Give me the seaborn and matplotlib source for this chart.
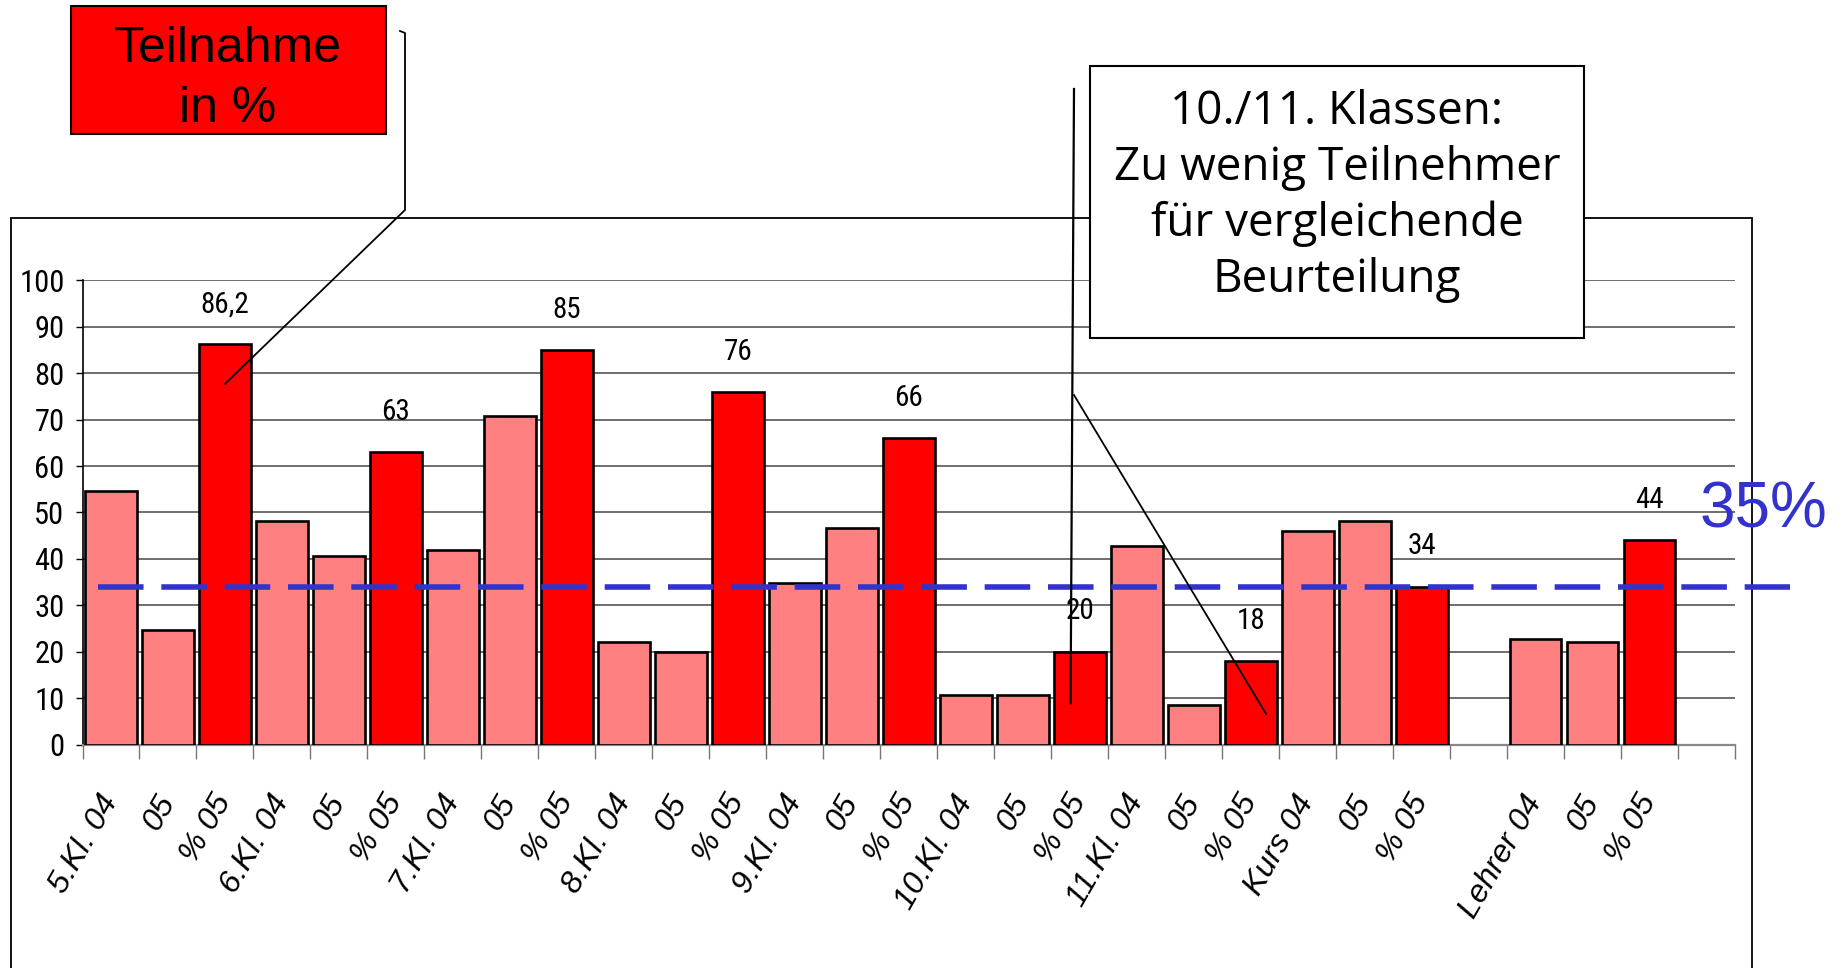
import os
import numpy as np
import pandas as pd
import matplotlib
matplotlib.use("Agg")
import matplotlib.pyplot as plt
import matplotlib.font_manager as fm
from matplotlib.lines import Line2D
from matplotlib.patches import Rectangle
import seaborn as sns

# ---------------- data ----------------
tick_labels = ["5.Kl. 04", "05", "% 05", "6.Kl. 04", "05", "% 05",
               "7.Kl. 04", "05", "% 05", "8.Kl. 04", "05", "% 05",
               "9.Kl. 04", "05", "% 05", "10.Kl. 04", "05", "% 05",
               "11.Kl. 04", "05", "% 05", "Kurs 04", "05", "% 05",
               "", "Lehrer 04", "05", "% 05", ""]
values = [54.7, 24.7, 86.2, 48.1, 40.6, 63.0, 42.0, 70.7, 85.0,
          22.0, 20.0, 76.0, 34.8, 46.7, 66.0, 10.6, 10.6, 20.0,
          42.7, 8.6, 18.0, 45.9, 48.1, 34.0, None, 22.7, 22.0, 44.0, None]
kinds = ["Anzahl", "Anzahl", "Prozent"] * 8 + [None] + ["Anzahl", "Anzahl", "Prozent"] + [None]
value_labels = {2: "86,2", 5: "63", 8: "85", 11: "76", 14: "66",
                17: "20", 20: "18", 23: "34", 27: "44"}
threshold = 34
threshold_label = "35%"

# ---------------- fonts ----------------
names = {f.name for f in fm.fontManager.ttflist}
SANS = "Liberation Sans"
BOXFONT = "Open Sans" if "Open Sans" in names else "DejaVu Sans"
narrow_kw = None
for cand in ["Liberation Sans Narrow", "Arial Narrow", "DejaVu Sans Condensed",
             "Roboto Condensed", "Open Sans Condensed"]:
    if cand in names:
        narrow_kw = {"family": cand}
        break
if narrow_kw is None:
    try:
        path = fm.findfont(fm.FontProperties(family="DejaVu Sans", stretch="condensed"),
                           fallback_to_default=False)
        if "Condensed" in path:
            narrow_kw = {"family": "DejaVu Sans", "stretch": "condensed"}
    except Exception:
        pass
if narrow_kw is None:
    narrow_kw = {"family": SANS}
    NSIZE = 19
else:
    NSIZE = 22

# italic font file for the category labels
italic_path = None
for cand in ["Liberation Sans", "Roboto", "Noto Sans", "Open Sans", "Lato", "Inter", "DejaVu Sans"]:
    for f in fm.fontManager.ttflist:
        if (f.name == cand and f.style in ("italic", "oblique")
                and f.weight in (400, "normal", "regular", "book")
                and f.stretch == "normal"):
            italic_path = f.fname
            break
    if italic_path:
        break
if italic_path is None:
    italic_path = os.path.join(matplotlib.get_data_path(), "fonts", "ttf", "DejaVuSans-Oblique.ttf")

plt.rcParams["font.family"] = [SANS, "DejaVu Sans"]

W, H = 1847, 968
def fx(x):
    return x / W
def fy(y):
    return 1 - y / H

slots = [f"s{i:02d}" for i in range(len(tick_labels))]
df = pd.DataFrame({"slot": slots, "value": values, "kind": kinds}).dropna()

fig = plt.figure(figsize=(W / 100, H / 100), dpi=100)
ax = fig.add_axes([fx(82.5), fy(744.5), fx(1735) - fx(82.5), fy(280.4) - fy(744.5)])

sns.barplot(data=df, x="slot", y="value", hue="kind", order=slots,
            hue_order=["Anzahl", "Prozent"],
            palette={"Anzahl": "#FF8080", "Prozent": "#FF0000"},
            dodge=False, width=0.91, saturation=1, errorbar=None,
            edgecolor="black", linewidth=1.9, legend=False, ax=ax, zorder=3)

ax.set_xlim(-0.5, len(slots) - 0.5)
ax.set_ylim(0, 100)
ax.yaxis.grid(True, color="#555555", linewidth=1.2, zorder=0)
ax.set_axisbelow(True)
ax.set_xlabel("")
ax.set_ylabel("")
for s in ["top", "right"]:
    ax.spines[s].set_visible(False)
ax.spines["left"].set_color("black")
ax.spines["left"].set_linewidth(1.2)
ax.spines["bottom"].set_color("#888888")
ax.spines["bottom"].set_linewidth(1.6)

ax.set_xticks(range(len(slots)))
ax.set_xticklabels(tick_labels, rotation=60, ha="right", va="center",
                   rotation_mode="anchor")
ax.set_xticks(np.arange(-0.5, len(slots), 1), minor=True)
ax.tick_params(axis="x", which="major", length=0, pad=38)
ax.tick_params(axis="x", which="minor", length=10, width=1, color="#777777")
ax.set_yticks(range(0, 101, 10))
ax.set_yticklabels([str(v) for v in range(0, 101, 10)], fontsize=NSIZE, **narrow_kw)
ax.tick_params(axis="y", length=5, width=1, color="black", pad=8)
for t in ax.get_xticklabels():
    t.set_fontproperties(fm.FontProperties(fname=italic_path, size=23))

# value labels above the % bars
for i, txt in value_labels.items():
    ax.annotate(txt, (i, values[i]), xytext=(0, 29), textcoords="offset points",
                ha="center", va="center", fontsize=NSIZE - 1, zorder=5, **narrow_kw)

# dashed threshold line
ax.plot([-0.23, 29.46], [threshold, threshold], color="#3333CC", lw=4,
        dashes=(8.2, 3.2), clip_on=False, zorder=4)
ax.text(29.0, 50.5, threshold_label, color="#3333CC", fontsize=46,
        ha="center", va="center", clip_on=False)

# outer plot-area frame
fig.add_artist(Rectangle((fx(10.6), -0.05), fx(1752) - fx(10.6), fy(218) + 0.05,
                         transform=fig.transFigure, fill=False,
                         edgecolor="black", linewidth=1.3, zorder=0))

def data_to_fig(x, y):
    p = ax.transData.transform((x, y))
    return fig.transFigure.inverted().transform(p)

# "Teilnahme in %" box + callout
fig.add_artist(Rectangle((fx(71), fy(134)), fx(386) - fx(71), fy(6) - fy(134),
                         transform=fig.transFigure, facecolor="#FF0000",
                         edgecolor="black", linewidth=1.5, zorder=6))
fig.text(fx(228), fy(79), "Teilnahme\nin %", ha="center", va="center",
         fontsize=36, linespacing=1.38, zorder=7)
ex, ey = data_to_fig(2.0, 77.7)
fig.add_artist(Line2D([fx(400), fx(405), fx(405), ex],
                      [fy(31), fy(33), fy(210), ey],
                      transform=fig.transFigure, color="black", lw=1.3, zorder=6))

# "10./11. Klassen" box + callouts
fig.add_artist(Rectangle((fx(1090), fy(338)), fx(1584) - fx(1090), fy(66) - fy(338),
                         transform=fig.transFigure, facecolor="white",
                         edgecolor="black", linewidth=1.5, zorder=6))
fig.text(fx(1337), fy(196),
         "10./11. Klassen:\nZu wenig Teilnehmer\nfür vergleichende\nBeurteilung",
         ha="center", va="center", fontsize=33, family=BOXFONT,
         linespacing=1.28, zorder=7)
vx, vy = data_to_fig(16.84, 8.9)
fig.add_artist(Line2D([fx(1074), vx], [fy(89), vy], transform=fig.transFigure,
                      color="black", lw=1.6, zorder=6))
dx, dy = data_to_fig(20.27, 6.6)
fig.add_artist(Line2D([fx(1074), dx], [fy(395), dy], transform=fig.transFigure,
                      color="black", lw=1.3, zorder=6))

fig.savefig("out.png", dpi=100)
